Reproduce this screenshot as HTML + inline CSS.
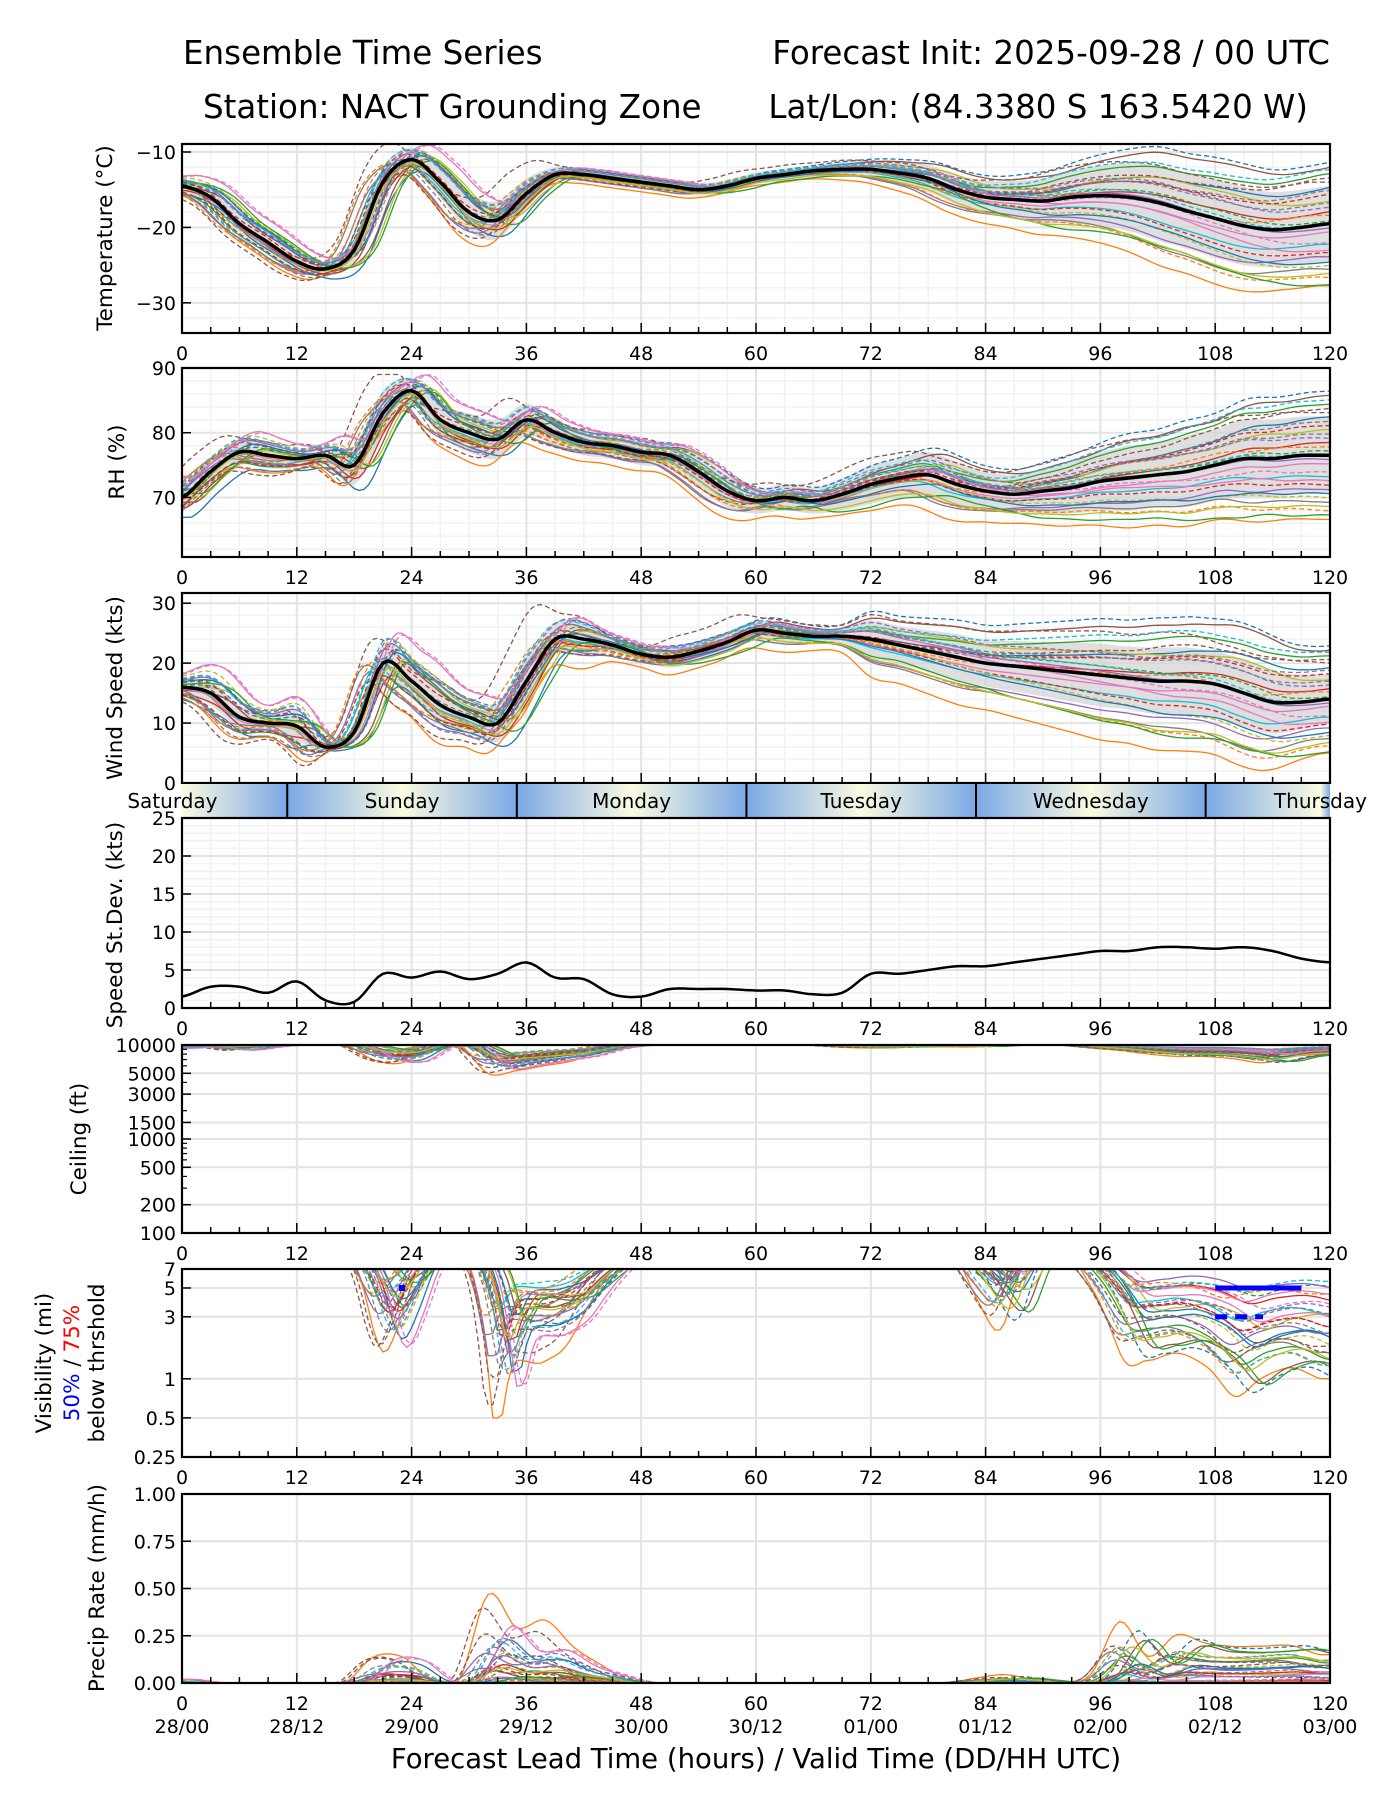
<!DOCTYPE html>
<html><head><meta charset="utf-8">
<style>
html,body{margin:0;padding:0;background:#fff;}
svg{display:block;font-family:"DejaVu Sans","Liberation Sans",sans-serif;}
</style></head>
<body>
<svg id="fig" width="1400" height="1800" viewBox="0 0 1400 1800" xmlns="http://www.w3.org/2000/svg">
<rect width="1400" height="1800" fill="#fff"/>
<text x="183" y="64" font-size="32.5">Ensemble Time Series</text>
<text x="203" y="118" font-size="32.5">Station: NACT Grounding Zone</text>
<text x="1330" y="64" font-size="32.5" text-anchor="end">Forecast Init: 2025-09-28 / 00 UTC</text>
<text x="1308" y="118" font-size="32.5" text-anchor="end">Lat/Lon: (84.3380 S 163.5420 W)</text>
<text x="756" y="1768" font-size="27.5" text-anchor="middle">Forecast Lead Time (hours) / Valid Time (DD/HH UTC)</text>
</svg>
<script>
// ---- data (3-hourly, hours 0..120) ----
const hours = [0,3,6,9,12,15,18,21,24,27,30,33,36,39,42,45,48,51,54,57,60,63,66,69,72,75,78,81,84,87,90,93,96,99,102,105,108,111,114,117,120];
const tempMean = [-14.5,-16,-19.5,-22,-24.5,-25.5,-23,-14,-11,-14,-18,-19,-15.5,-13,-13,-13.5,-14,-14.5,-15,-14.5,-13.5,-13,-12.5,-12.3,-12.3,-12.8,-13.5,-15,-16,-16.3,-16.5,-16,-15.8,-16,-16.7,-17.8,-18.8,-19.8,-20.3,-20,-19.5];
const tempSpread = [0.8,1,1.2,1.3,1.2,1,1.5,2,1.5,2,2.5,2.5,2,1,0.8,0.8,0.8,0.8,0.8,0.8,0.8,0.8,0.8,1,1.2,1.5,1.8,2,2.2,2.5,3,3.5,4,4.5,5,5,5.2,5.2,5,5,5];
const rhMean = [70,74,77,76.5,76,76.5,75,83,86.5,82,80,79,82,80,78.5,78,77,76.5,74,71,69.5,70,69.5,70.5,72,73,73.5,72,71,70.5,71,71.5,72.5,73,73.5,74,75,76,76,76.5,76.5];
const rhSpread = [2,2,2,2,1.5,1.5,3,3.5,2,2.5,3,3,2.5,2,2,2,2,2,2.5,2.5,2,2,2,2.5,3,3,3.5,3.5,3,3,3.5,4,4.5,5,5,5.5,5.5,6,6,6,6];
const windMean = [16,15,11,10,9.5,6,8.5,20,17,13,11,10,17,24,24,23,21.5,21,22,23.5,25.5,25,24.5,24.5,24,23,22,21,20,19.5,19,18.5,18,17.5,17,17,16.5,15,13.5,13.5,14];
const windStd = [1.5,2.8,2.8,2,3.5,1,0.8,4.5,4,4.8,3.8,4.5,6,4,3.8,1.8,1.5,2.5,2.5,2.5,2.3,2.3,1.8,2,4.5,4.5,5,5.5,5.5,6,6.5,7,7.5,7.5,8,8,7.8,8,7.5,6.5,6];
const ceilDip = [0.03,0.02,0.05,0.02,0,0,0,0.15,0.18,0.02,0,0.28,0.25,0.2,0.15,0.05,0,0,0,0,0,0,0,0.02,0.03,0.03,0.02,0.02,0.02,0,0,0,0.03,0.05,0.08,0.1,0.1,0.12,0.15,0.1,0.08];
const visMin = [10,10,10,10,10,10,10,1.8,2.5,10,10,0.8,1,1,1.8,5,10,10,10,10,10,10,10,10,10,10,10,10,4,2.5,10,10,5,1.5,1.3,1.5,1.2,0.7,1,1.2,1];
const precipMax = [0.02,0,0,0,0,0,0,0.2,0.2,0.02,0.03,0.65,0.4,0.45,0.25,0.12,0,0,0,0,0,0,0,0,0,0,0,0,0.03,0.05,0.02,0,0.05,0.35,0.15,0.27,0.22,0.2,0.2,0.2,0.15];
const memberFactorA = [-1.4,-1.1,-0.9,-0.7,-0.5,-0.35,-0.2,-0.1,0,0.1,0.2,0.35,0.5,0.7,0.9,1.1,1.4,-1.2,1.2,-0.6,0.6,-0.3,0.3,-0.8,0.8,-1.5,1.5,0.05,-0.05,1.0];
const memberFactorB = [0.9,-1.5,1.2,0.3,-0.8,1.4,-0.2,-1.1,0.6,-0.5,1.5,-1.3,0.1,-0.7,0.4,1.0,-0.4,0.8,-1.0,1.3,-0.9,0.2,-1.4,0.7,-0.1,1.1,-0.6,0.5,-1.2,0];
const memberShift = [-1,1,0.5,-0.5,1.5,-1.5,0,2,-2,0.8,-0.8,1.2,-1.2,0.3,-0.3,1.8,-1.8,0.6,-0.6,1,-1,2.2,-2.2,0.4,-0.4,1.4,-1.4,0.2,-0.2,0];
const dayNames = ["Saturday","Sunday","Monday","Tuesday","Wednesday","Thursday"];
const dayBounds = [11,35,59,83,107];
const visBar50 = [108,117,5];
const visBar75 = [108,113,3];
const visDot = [23,5];
const validTimes = ['28/00','28/12','29/00','29/12','30/00','30/12','01/00','01/12','02/00','02/12','03/00'];

const colors = ["#1f77b4","#ff7f0e","#2ca02c","#d62728","#9467bd","#8c564b","#e377c2","#7f7f7f","#bcbd22","#17becf"];
const svg = document.getElementById('fig');
const NS = "http://www.w3.org/2000/svg";
const X0 = 182, X1 = 1330;
const xs = h => X0 + (X1 - X0) * h / 120;

function el(tag, attrs, parent){
  const e = document.createElementNS(NS, tag);
  for (const k in attrs) e.setAttribute(k, attrs[k]);
  (parent||svg).appendChild(e);
  return e;
}
function interp(arr, t){
  if (t <= 0) return arr[0];
  if (t >= 120) return arr[arr.length-1];
  const i = Math.floor(t/3), f = t/3 - i;
  const p0 = arr[Math.max(i-1,0)], p1 = arr[i], p2 = arr[Math.min(i+1,arr.length-1)], p3 = arr[Math.min(i+2,arr.length-1)];
  return 0.5*((2*p1)+(-p0+p2)*f+(2*p0-5*p1+4*p2-p3)*f*f+(-p0+3*p1-3*p2+p3)*f*f*f);
}
function factor(m, t){ const w = t/120; return memberFactorA[m]*(1-w) + memberFactorB[m]*w; }

let clipId = 0;
function panel(cfg){
  const {y0,y1,ys,ticks,labels,minor,name,noXLabels} = cfg;
  const g = el('g', {});
  
  
  if (minor){
    for (let h=3; h<120; h+=3){ if (h%12) el('line',{x1:xs(h),x2:xs(h),y1:y0,y2:y1,stroke:'#f2f2f2','stroke-width':1.5},g); }
    minor.forEach(v=>{ el('line',{x1:X0,x2:X1,y1:ys(v),y2:ys(v),stroke:'#f2f2f2','stroke-width':1.5},g); });
  }
  for (let h=12; h<120; h+=12) el('line',{x1:xs(h),x2:xs(h),y1:y0,y2:y1,stroke:'#e3e3e3','stroke-width':2},g);
  ticks.forEach(v=>{ const y=ys(v); if (y>y0+1 && y<y1-1) el('line',{x1:X0,x2:X1,y1:y,y2:y,stroke:'#e3e3e3','stroke-width':2},g); });
  const id = 'clip' + (clipId++);
  const cp = el('clipPath',{id:id},g);
  el('rect',{x:X0,y:y0,width:X1-X0,height:y1-y0},cp);
  const plot = el('g',{'clip-path':`url(#${id})`},g);
  
  
  for (let h=0; h<=120; h+=3){
    const L = h%12 ? 6 : 10;
    el('line',{x1:xs(h),x2:xs(h),y1:y1,y2:y1-L,stroke:'#000','stroke-width':1.5},g);
  }
  ticks.forEach((v,i)=>{
    const y=ys(v);
    el('line',{x1:X0,x2:X0+9,y1:y,y2:y,stroke:'#000','stroke-width':1.5},g);
    const t = el('text',{x:X0-6,y:y+7,'font-size':19,'text-anchor':'end'},g);
    t.textContent = labels[i];
    
    
  });
  if (!noXLabels){
    for (let h=0; h<=120; h+=12){
      const t = el('text',{x:xs(h),y:y1+27,'font-size':19,'text-anchor':'middle'},g);
      t.textContent = h;
      
      
    }
  }
  return {g, plot};
}
function pathD(fn){
  let d='', first=true;
  for (let t=0; t<=120.001; t+=0.5){
    const v = fn(t);
    d += (first?'M':'L') + xs(t).toFixed(1) + ',' + v.toFixed(1) + ' ';
    first=false;
  }
  return d;
}
function frame(p, y0, y1){
  el('rect',{x:X0,y:y0,width:X1-X0,height:y1-y0,fill:'none',stroke:'#000','stroke-width':2.2},p.g);
}
function members(p, fn, name){
  for (let m=0; m<30; m++){
    const dashed = (m>=10 && m<20) || (m>=20 && m%2===1);
    const path = el('path',{d:pathD(t=>fn(m,t)),fill:'none',stroke:colors[m%10],'stroke-width':1.3,'stroke-dasharray':dashed?'5,3':'none'},p.plot);
    
    
  }
}
function band(p, ys, mean, spread, name){
  let d='';
  for (let t=0;t<=120.001;t+=0.5) d += (t===0?'M':'L') + xs(t).toFixed(1)+','+ys(interp(mean,t)+interp(spread,t)).toFixed(1)+' ';
  for (let t=120;t>=-0.001;t-=0.5) d += 'L' + xs(t).toFixed(1)+','+ys(interp(mean,t)-interp(spread,t)).toFixed(1)+' ';
  const b = el('path',{d:d+'Z',fill:'#d4d4d4','fill-opacity':0.75},p.plot);
  
  
}
function meanLine(p, ys, mean, name){
  const l = el('path',{d:pathD(t=>ys(interp(mean,t))),fill:'none',stroke:'#000','stroke-width':3.5},p.plot);
  
  
}
function ylabel(x, yc, txt, name){
  const t = el('text',{x:x,y:yc,'font-size':21.5,'text-anchor':'middle',transform:`rotate(-90 ${x} ${yc})`});
  t.textContent = txt;
  
  
  return t;
}
const lin = (y0,y1,a,b)=> v => y1 - (v-a)/(b-a)*(y1-y0);
const logs = (y0,y1,a,b)=> v => y1 - (Math.log10(v)-Math.log10(a))/(Math.log10(b)-Math.log10(a))*(y1-y0);

// Panel 1: temperature
{
  const y0=144,y1=333, ys=lin(y0,y1,-34,-8.94);
  const p = panel({y0,y1,ys,ticks:[-30,-20,-10],labels:['\u221230','\u221220','\u221210'],minor:[-32,-28,-26,-24,-22,-18,-16,-14,-12],name:'temperature'});
  band(p, ys, tempMean, tempSpread, 'temperature');
  members(p, (m,t)=>ys(interp(tempMean,Math.min(120,Math.max(0,t+memberShift[m]))) + interp(tempSpread,t)*factor(m,t)*1.1), 'temperature');
  meanLine(p, ys, tempMean, 'temperature'); frame(p,y0,y1);
  ylabel(112, 238, 'Temperature (\u00b0C)', 'temperature-y-axis-title');
}
// Panel 2: RH
{
  const y0=368,y1=557, ys=lin(y0,y1,60.8,90);
  const p = panel({y0,y1,ys,ticks:[70,80,90],labels:['70','80','90'],minor:[62,64,66,68,72,74,76,78,82,84,86,88],name:'rh'});
  band(p, ys, rhMean, rhSpread, 'rh');
  members(p, (m,t)=>ys(Math.min(89,interp(rhMean,Math.min(120,Math.max(0,t+memberShift[m]))) + interp(rhSpread,t)*factor(m,t)*1.1)), 'rh');
  meanLine(p, ys, rhMean, 'rh'); frame(p,y0,y1);
  ylabel(124, 462, 'RH (%)', 'rh-y-axis-title');
}
// Panel 3: wind
{
  const y0=593,y1=783, ys=lin(y0,y1,0,31.7);
  const p = panel({y0,y1,ys,ticks:[0,10,20,30],labels:['0','10','20','30'],minor:[2,4,6,8,12,14,16,18,22,24,26,28],name:'wind',noXLabels:true});
  band(p, ys, windMean, windStd.map(v=>v*0.7), 'wind');
  members(p, (m,t)=>ys(Math.max(0,interp(windMean,Math.min(120,Math.max(0,t+memberShift[m]))) + interp(windStd,t)*factor(m,t)*1.0)), 'wind');
  meanLine(p, ys, windMean, 'wind'); frame(p,y0,y1);
  ylabel(122, 688, 'Wind Speed (kts)', 'wind-y-axis-title');
}
// Day band
{
  const by0=784, by1=817;
  const g = el('g',{});
  
  
  const defs = el('defs',{},g);
  const lg = el('linearGradient',{id:'dayGrad',x1:X0,x2:X1,y1:0,y2:0,gradientUnits:'userSpaceOnUse'},defs);
  const starts = [-13].concat(dayBounds);
  starts.forEach(s=>{
    [[s,'#7aa8e6'],[s+12,'#fbfbe1'],[s+24,'#7aa8e6']].forEach(([h,c])=>{
      el('stop',{offset:Math.min(1,Math.max(0,h/120)),'stop-color':c},lg);
    });
  });
  el('rect',{x:X0,y:by0,width:X1-X0,height:by1-by0,fill:'url(#dayGrad)'},g);
  dayBounds.forEach(h=>{
    const l = el('line',{x1:xs(h),x2:xs(h),y1:by0,y2:by1,stroke:'#000','stroke-width':2},g);
    
    
  });
  dayNames.forEach((n,i)=>{
    const t = el('text',{x:xs(-1+24*i),y:808,'font-size':20,'text-anchor':'middle'},g);
    t.textContent = n;
    
    
  });
}
// Panel 4: stdev
{
  const y0=818,y1=1008, ys=lin(y0,y1,0,25);
  const mn=[]; for(let v=1; v<25; v++) if(v%5) mn.push(v);
  const p = panel({y0,y1,ys,ticks:[0,5,10,15,20,25],labels:['0','5','10','15','20','25'],minor:mn,name:'stdev'});
  const l = el('path',{d:pathD(t=>ys(interp(windStd,t))),fill:'none',stroke:'#000','stroke-width':2.5},p.plot);
  
  
  frame(p,y0,y1);
  ylabel(122, 925, 'Speed St.Dev. (kts)', 'stdev-y-axis-title');
}
// Panel 5: ceiling
{
  const y0=1045,y1=1233, ys=logs(y0,y1,100,10000);
  const tk=[100,200,500,1000,1500,3000,5000,10000];
  const p = panel({y0,y1,ys,ticks:tk,labels:tk.map(String),name:'ceiling'});
  for (const v of [300,400,600,700,800,900,2000,4000,6000,7000,8000,9000]) el('line',{x1:X0,x2:X0+5,y1:ys(v),y2:ys(v),stroke:'#000','stroke-width':1.2},p.g);
  members(p, (m,t)=>{ const w=Math.abs(factor(m,t))/1.5; return ys(Math.pow(10, 4.005 - interp(ceilDip,Math.min(120,Math.max(0,t+memberShift[m])))*(0.3+w))); }, 'ceiling');
  frame(p,y0,y1);
  ylabel(86, 1139, 'Ceiling (ft)', 'ceiling-y-axis-title');
}
// Panel 6: visibility
{
  const y0=1269,y1=1457, ys=logs(y0,y1,0.25,7);
  const p = panel({y0,y1,ys,ticks:[0.25,0.5,1,3,5,7],labels:['0.25','0.5','1','3','5','7'],name:'visibility'});
  members(p, (m,t)=>{ const w=0.25+0.75*Math.abs(factor(m,t))/1.5; const vm=Math.max(0.3,interp(visMin,Math.min(120,Math.max(0,t+memberShift[m])))); return ys(Math.pow(10, 1 - (1-Math.log10(vm))*w)); }, 'visibility');
  const b1 = el('line',{x1:xs(visBar50[0]),x2:xs(visBar50[1]),y1:ys(visBar50[2]),y2:ys(visBar50[2]),stroke:'#0000ff','stroke-width':5},p.plot);
   
  const b2 = el('line',{x1:xs(visBar75[0]),x2:xs(visBar75[1]),y1:ys(visBar75[2]),y2:ys(visBar75[2]),stroke:'#0000ff','stroke-width':5,'stroke-dasharray':'12,8'},p.plot);
   
  const dot = el('rect',{x:xs(visDot[0])-3,y:ys(visDot[1])-3,width:6,height:6,fill:'#0000ff'},p.plot);
   
  frame(p,y0,y1);
  ylabel(51, 1363, 'Visibility (mi)', 'visibility-y-axis-title');
  const t2 = el('text',{x:79,y:1363,'font-size':21.5,'text-anchor':'middle',transform:'rotate(-90 79 1363)'});
   
  const s1 = el('tspan',{fill:'#0000ff'},t2); s1.textContent='50%';
  const s2 = el('tspan',{fill:'#000'},t2); s2.textContent=' / ';
  const s3 = el('tspan',{fill:'#ff0000'},t2); s3.textContent='75%';
  ylabel(104, 1363, 'below thrshold', 'visibility-y-axis-subtitle');
}
// Panel 7: precip
{
  const y0=1494,y1=1683, ys=lin(y0,y1,0,1);
  const p = panel({y0,y1,ys,ticks:[0,0.25,0.5,0.75,1],labels:['0.00','0.25','0.50','0.75','1.00'],name:'precip'});
  members(p, (m,t)=>{ const w=Math.pow(Math.abs(factor(m,t))/1.5,1.5); return ys(Math.max(0,interp(precipMax,Math.min(120,Math.max(0,t+memberShift[m]))))*w); }, 'precip');
  frame(p,y0,y1);
  ylabel(104, 1588, 'Precip Rate (mm/h)', 'precip-y-axis-title');
  validTimes.forEach((s,i)=>{
    const t = el('text',{x:xs(i*12),y:1733,'font-size':19,'text-anchor':'middle'});
    t.textContent = s;
    
    
  });
}
</script>
</body></html>
